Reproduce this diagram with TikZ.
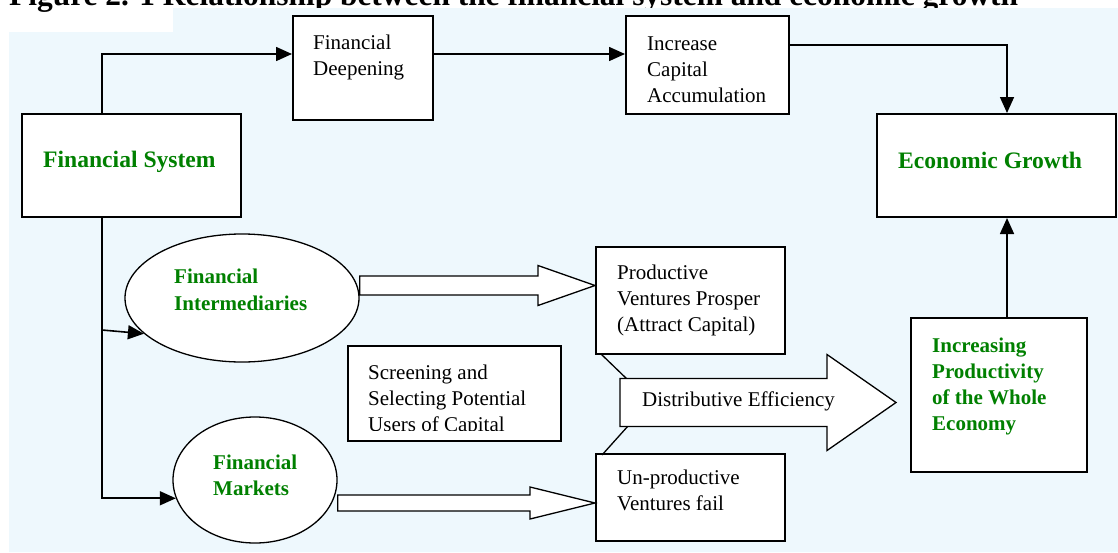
\documentclass[tikz,border=0pt]{standalone}
\usepackage{fontspec}
\setmainfont{Liberation Serif}
\usetikzlibrary{arrows.meta,calc,shapes.geometric}
\definecolor{panel}{RGB}{238,248,253}
\definecolor{leaf}{RGB}{0,128,0}

\tikzset{
  box/.style={draw=black, line width=2pt, fill=white, inner sep=0pt},
  oval/.style={ellipse, draw=black, line width=1.3pt, fill=white, inner sep=0pt},
  conn/.style={line width=1.6pt, -{Triangle[length=16pt,width=14pt]}},
  guide/.style={line width=1.3pt},
  fatarr/.style={draw=black, line width=1.3pt, fill=white, line join=miter},
  % multi-line labels are placed by the baseline of their last line
  body/.style={font=\fontsize{21}{26}\selectfont, text=black, align=left, inner sep=0pt, anchor=base west},
  head/.style={font=\fontsize{21}{26.5}\selectfont\bfseries, text=leaf, align=left, inner sep=0pt, anchor=base west},
  big/.style={font=\fontsize{23.6}{28}\selectfont\bfseries, text=leaf, inner sep=0pt, anchor=base west},
}

% block arrow: start point, tip point, half shaft, half head, head length
\newcommand\fatarrow[5]{%
  \draw[fatarr] let \p1=#1, \p2=#2 in
    (\x1,\y2+#3) -- (\x2-#5,\y2+#3) -- (\x2-#5,\y2+#4) -- (\x2,\y2)
    -- (\x2-#5,\y2-#4) -- (\x2-#5,\y2-#3) -- (\x1,\y2-#3) -- cycle;}

\begin{document}
\begin{tikzpicture}[x=1pt,y=-1pt]
\useasboundingbox (0,0) rectangle (1118,552);
\clip (0,0) rectangle (1118,552);

% caption line
\node[anchor=base west, font=\fontsize{31.4}{36}\selectfont\bfseries, inner sep=0pt] (title)
  at (9,5) {Figure 2. 1 Relationship between the financial system and economic growth};

% panel
\fill[panel] (9,32) -- (173,32) -- (173,8) -- (1118,8) -- (1118,552) -- (9,552) -- cycle;

% helper coordinates
\coordinate (trunk) at (102,0);
\coordinate (topline) at (0,54);
\coordinate (drop) at (1007,45);
\coordinate (fibranch) at (0,330);
\coordinate (ua) at (0,285.5);
\coordinate (la) at (0,503);
\coordinate (dstart) at (620,402.5);
\coordinate (dtip) at (896,402.5);
\coordinate (dtl) at (628,380);
\coordinate (dbl) at (628,426);

% boxes
\node[box, minimum width=219pt, minimum height=103pt] (FS) at (131.5,165.5) {};
\node[box, minimum width=140pt, minimum height=104pt] (FD) at (363,68) {};
\node[box, minimum width=163pt, minimum height=98pt] (IC) at (707.5,65) {};
\node[box, minimum width=239pt, minimum height=103pt] (EG) at (996.5,165.5) {};
\node[box, minimum width=189pt, minimum height=107pt] (PV) at (690.5,300.5) {};
\node[box, minimum width=213pt, minimum height=95pt] (SC) at (454.5,393.5) {};
\node[box, minimum width=189pt, minimum height=87pt] (UV) at (690.5,497.5) {};
\node[box, minimum width=176pt, minimum height=154pt] (IP) at (999,395) {};

% ellipses
\node[oval, minimum width=234pt, minimum height=128pt] (FI) at (242,298) {};
\node[oval, minimum width=164pt, minimum height=126pt] (FM) at (255,480) {};

% connectors
\draw[conn] (trunk |- FS.north) |- (FD.west |- topline);
\draw[conn] (FD.east |- topline) -- (IC.west |- topline);
\draw[conn] (IC.east |- drop) -| (drop |- EG.north);
\draw[conn] (drop |- IP.north) -- (drop |- EG.south);
\draw[conn] (trunk |- FS.south) |- (FM.193);
\draw[conn] (trunk |- fibranch) -- (FI.200);

% guide lines from the venture boxes to the efficiency arrow
\draw[guide] ($(PV.south west)+(6,-1)$) -- (dtl);
\draw[guide] (dbl) -- ($(UV.north west)+(7,2)$);

% block arrows
\fatarrow{(FI.east)}{(PV.west |- ua)}{9.5pt}{20pt}{57pt}
\fatarrow{(FM.east)}{(UV.west |- la)}{8pt}{16pt}{65pt}
\fatarrow{(dstart)}{(dtip)}{24pt}{48pt}{69pt}

% labels
\node[big] (FSt) at (43,167) {Financial System};
\node[big] (EGt) at (898,168) {Economic Growth};
\node[body] (FDt) at (313,75) {Financial\\Deepening};
\node[body] (ICt) at (647,102) {Increase\\Capital\\Accumulation};
\node[body] (PVt) at (617,331) {Productive\\Ventures Prosper\\(Attract Capital)};
\node[body] (UVt) at (617,510) {Un-productive\\Ventures fail};
\node[body] (DEt) at (642,406) {Distributive Efficiency};
\begin{scope}
  \clip (350,348) rectangle (559,430);
  \node[body] (SCt) at (368,431) {Screening and\\Selecting Potential\\Users of Capital};
\end{scope}
\node[head] (FIt) at (174,310) {Financial\\Intermediaries};
\node[head] (FMt) at (213,495.5) {Financial\\Markets};
\node[head, font=\fontsize{21}{26}\selectfont\bfseries] (IPt) at (932,430) {Increasing\\Productivity\\of the Whole\\Economy};
\end{tikzpicture}
\end{document}
